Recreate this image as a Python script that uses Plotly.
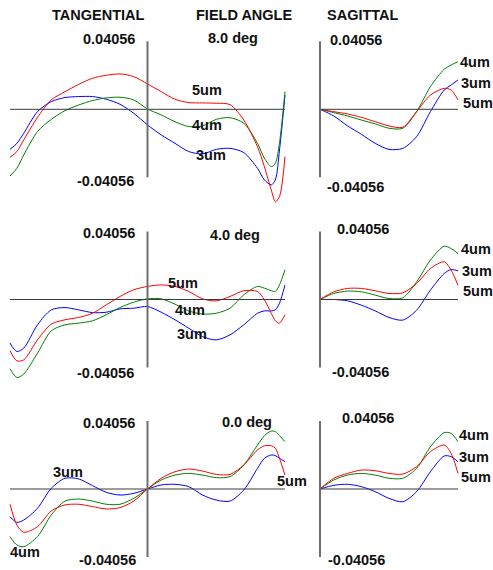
import plotly.graph_objects as go

# ---------------- data ----------------
SCALE = 0.04056  # mm, plot scale (+/-)
FIELDS = ["8.0 deg", "4.0 deg", "0.0 deg"]
WAVES = ["3um", "4um", "5um"]

# normalized pupil coordinates
PY_TAN = [-1.0, -0.95, -0.9, -0.8, -0.7, -0.6, -0.5, -0.4, -0.3, -0.2, -0.1, 0.0,
          0.1, 0.2, 0.3, 0.4, 0.5, 0.6, 0.7, 0.8, 0.85, 0.9, 0.93, 0.96, 1.0]
PX_SAG = [0.0, 0.1, 0.2, 0.3, 0.4, 0.5, 0.6, 0.7, 0.8, 0.9, 0.95, 1.0]

# tangential ray aberration (micrometres) - field 8.0 deg
TAN_8_3um = [-23.9, -20.3, -14.3, -1.4, 4.6, 7.0, 7.6, 7.6, 6.0, 3.0, -2.4, -9.3,
             -15.3, -20.3, -25.2, -26.6, -23.9, -23.3, -25.8, -35.2, -42.1, -45.1, -42.1, -24.3, 8.5]
TAN_8_4um = [-39.8, -35.2, -27.2, -13.3, -6.0, -0.8, 2.6, 5.2, 6.8, 7.2, 5.6, 0.2,
             -3.4, -7.4, -10.3, -9.9, -6.0, -5.0, -8.3, -20.3, -29.2, -34.2, -32.2, -19.9, 10.5]
TAN_8_5um = [-28.6, -25.2, -18.3, -4.8, 5.6, 10.5, 14.9, 18.5, 20.3, 21.1, 19.5, 15.1,
             10.5, 6.0, 4.0, 3.8, 3.6, 2.8, -6.4, -22.3, -34.2, -48.1, -55.1, -52.1, -28.2]
# field 4.0 deg
TAN_4_3um = [-26.0, -31.0, -29.0, -15.1, -6.2, -4.8, -6.2, -7.8, -7.6, -5.6, -5.2, -4.2,
             -7.6, -12.1, -17.1, -22.1, -24.1, -21.1, -15.1, -8.2, -6.8, -6.8, -6.2, -2.2, 8.7]
TAN_4_4um = [-41.3, -46.5, -44.5, -32.0, -18.7, -15.1, -14.1, -12.7, -9.1, -4.8, -1.6, 0.4,
             0.4, -2.8, -6.8, -8.7, -8.2, -5.2, 2.8, 7.8, 6.8, 5.2, 4.8, 8.7, 17.7]
TAN_4_5um = [-30.6, -36.6, -36.0, -24.1, -14.7, -12.1, -10.7, -8.2, -3.2, 1.8, 5.8, 7.8,
             8.7, 7.8, 4.8, 0.4, -0.8, 1.8, 5.2, 4.8, -0.2, -8.2, -12.7, -14.1, -9.1]
# field 0.0 deg
TAN_0_3um = [-16.5, -19.9, -18.5, -11.5, 0.4, 6.4, 6.0, 2.0, -2.0, -3.6, -2.6, 0.0,
             2.4, 2.8, 1.4, -3.6, -6.6, -7.2, -0.6, 12.3, 18.3, 20.3, 19.9, 18.3, 16.3]
TAN_0_4um = [-28.4, -33.4, -34.4, -28.4, -15.5, -7.2, -6.0, -7.2, -9.1, -9.1, -5.6, 0.0,
             5.4, 8.3, 9.3, 8.3, 6.8, 7.4, 14.3, 26.2, 31.8, 34.6, 34.2, 31.8, 28.2]
TAN_0_5um = [-9.1, -21.5, -25.8, -22.5, -13.1, -9.5, -9.1, -10.5, -11.9, -11.1, -7.2, 0.0,
             6.4, 10.3, 11.9, 10.7, 8.7, 8.7, 14.3, 23.3, 25.8, 25.8, 24.3, 18.3, 8.3]

# sagittal ray aberration (micrometres)
SAG_8_3um = [0.0, -4.0, -9.9, -14.9, -20.3, -23.9, -23.3, -16.3, -1.4, 11.5, 14.5, 17.5]
SAG_8_4um = [0.0, -2.0, -4.0, -6.4, -8.7, -11.3, -11.3, -1.4, 13.5, 23.9, 26.4, 28.4]
SAG_8_5um = [0.0, -1.4, -2.8, -4.8, -7.4, -9.9, -10.7, -1.4, 8.5, 12.5, 11.5, 5.6]
SAG_4_3um = [0.0, 0.0, -0.8, -3.4, -6.8, -10.7, -12.3, -6.4, 5.6, 15.5, 17.9, 17.1]
SAG_4_4um = [0.0, 3.6, 5.0, 4.6, 2.6, 0.6, 1.0, 10.5, 23.5, 31.8, 30.4, 27.4]
SAG_4_5um = [0.0, 4.6, 6.6, 6.6, 5.2, 3.6, 4.0, 9.5, 18.5, 22.5, 17.5, 8.5]
SAG_0_3um = [0.0, 2.2, 2.8, 1.4, -1.6, -5.6, -7.6, -1.6, 10.3, 19.7, 19.3, 16.3]
SAG_0_4um = [0.0, 5.4, 8.3, 9.3, 8.3, 6.4, 6.4, 12.3, 25.2, 33.6, 33.2, 28.2]
SAG_0_5um = [0.0, 6.4, 9.3, 11.3, 10.9, 9.3, 8.9, 13.3, 22.3, 26.2, 21.3, 9.3]

TAN = [[TAN_8_3um, TAN_8_4um, TAN_8_5um],
       [TAN_4_3um, TAN_4_4um, TAN_4_5um],
       [TAN_0_3um, TAN_0_4um, TAN_0_5um]]
SAG = [[SAG_8_3um, SAG_8_4um, SAG_8_5um],
       [SAG_4_3um, SAG_4_4um, SAG_4_5um],
       [SAG_0_3um, SAG_0_4um, SAG_0_5um]]

# ---------------- layout geometry (pixels) ----------------
W, H = 493, 570
COLORS = {"3um": "#0000ff", "4um": "#008000", "5um": "#ff0000"}
TAN_CX, TAN_K = 147.5, 137.5   # px of x=0, px per unit
SAG_CX, SAG_K = 320.0, 138.0
ROW_CY = [109.3, 299.5, 489.0]
ROW_DOM = [(12, 204), (204, 394), (394, 570)]
YPX = 68.0  # px per SCALE
TAN_DOM = (2, 293)
SAG_DOM = (313, 466)

FONT = "Liberation Sans, Arial, sans-serif"

def px2paper_x(p):
    return p / W

def px2paper_y(p):
    return 1 - p / H

fig = go.Figure()
layout = {}
shapes = []
annotations = []

idx = 0
for r in range(3):
    cy = ROW_CY[r]
    pt, pb = ROW_DOM[r]
    yr = [(cy - pb) / YPX * SCALE, (cy - pt) / YPX * SCALE]
    for kind in ("tan", "sag"):
        idx += 1
        sfx = "" if idx == 1 else str(idx)
        if kind == "tan":
            dom, cx, k = TAN_DOM, TAN_CX, TAN_K
            xs, series = PY_TAN, TAN[r]
            x0, x1 = -1.0, 1.0
        else:
            dom, cx, k = SAG_DOM, SAG_CX, SAG_K
            xs, series = PX_SAG, SAG[r]
            x0, x1 = 0.0, 1.0
        xr = [(dom[0] - cx) / k, (dom[1] - cx) / k]
        layout["xaxis" + sfx] = dict(domain=[px2paper_x(dom[0]), px2paper_x(dom[1])],
                                     range=xr, visible=False, anchor="y" + sfx,
                                     fixedrange=True)
        layout["yaxis" + sfx] = dict(domain=[px2paper_y(pb), px2paper_y(pt)],
                                     range=yr, visible=False, anchor="x" + sfx,
                                     fixedrange=True)
        # axes lines
        shapes.append(dict(type="line", xref="x" + sfx, yref="y" + sfx,
                           x0=x0, x1=x1, y0=0, y1=0,
                           line=dict(color="#3a3a3a", width=1)))
        shapes.append(dict(type="line", xref="x" + sfx, yref="y" + sfx,
                           x0=0, x1=0, y0=-SCALE, y1=SCALE,
                           line=dict(color="#6e6e6e", width=2)))
        for w, vals in zip(WAVES, series):
            fig.add_trace(go.Scatter(
                x=xs, y=[v / 1000.0 for v in vals], mode="lines",
                line=dict(color=COLORS[w], width=1, shape="spline", smoothing=0.8),
                xaxis="x" + sfx, yaxis="y" + sfx, showlegend=False,
                hoverinfo="skip"))

def label(text, left_px, cy_px, size=14.5):
    annotations.append(dict(text="<b>%s</b>" % text, xref="paper", yref="paper",
                            x=px2paper_x(left_px), y=px2paper_y(cy_px),
                            xanchor="left", yanchor="middle", showarrow=False,
                            font=dict(family=FONT, size=size, color="#111111"),
                            borderpad=0))

top_s = "%.5f" % SCALE
bot_s = "-%.5f" % SCALE

label("TANGENTIAL", 51, 15)
label("FIELD ANGLE", 195, 15)
label("SAGITTAL", 326, 15)

# row 1
label(top_s, 82, 39); label(bot_s, 76, 180.5); label(FIELDS[0], 207, 38)
label("5um", 191, 90); label("4um", 191, 125); label("3um", 195, 155)
label(top_s, 329, 40); label(bot_s, 326, 187)
label("4um", 459, 62); label("3um", 460, 83); label("5um", 462, 103)
# row 2
label(top_s, 82, 233); label(bot_s, 76, 373); label(FIELDS[1], 209, 235)
label("5um", 167, 283); label("4um", 174, 310); label("3um", 176, 334)
label(top_s, 336, 229); label(bot_s, 331, 372)
label("4um", 460, 249); label("3um", 461, 271); label("5um", 462, 291)
# row 3
label(top_s, 82, 423); label(bot_s, 78, 560); label(FIELDS[2], 221, 422)
label("3um", 52, 472); label("5um", 276, 481); label("4um", 9, 552)
label(top_s, 341, 418); label(bot_s, 327, 560)
label("4um", 458, 435); label("3um", 458, 457); label("5um", 460, 477)

fig.update_layout(width=W, height=H, margin=dict(l=0, r=0, t=0, b=0),
                  paper_bgcolor="white", plot_bgcolor="rgba(0,0,0,0)",
                  shapes=shapes, annotations=annotations, **layout)

fig.write_html("out.html",
               config={"displayModeBar": False, "staticPlot": True},
               post_script="document.body.style.margin='0px';"
                           "document.body.style.padding='0px';"
                           "document.body.style.overflow='hidden';")
